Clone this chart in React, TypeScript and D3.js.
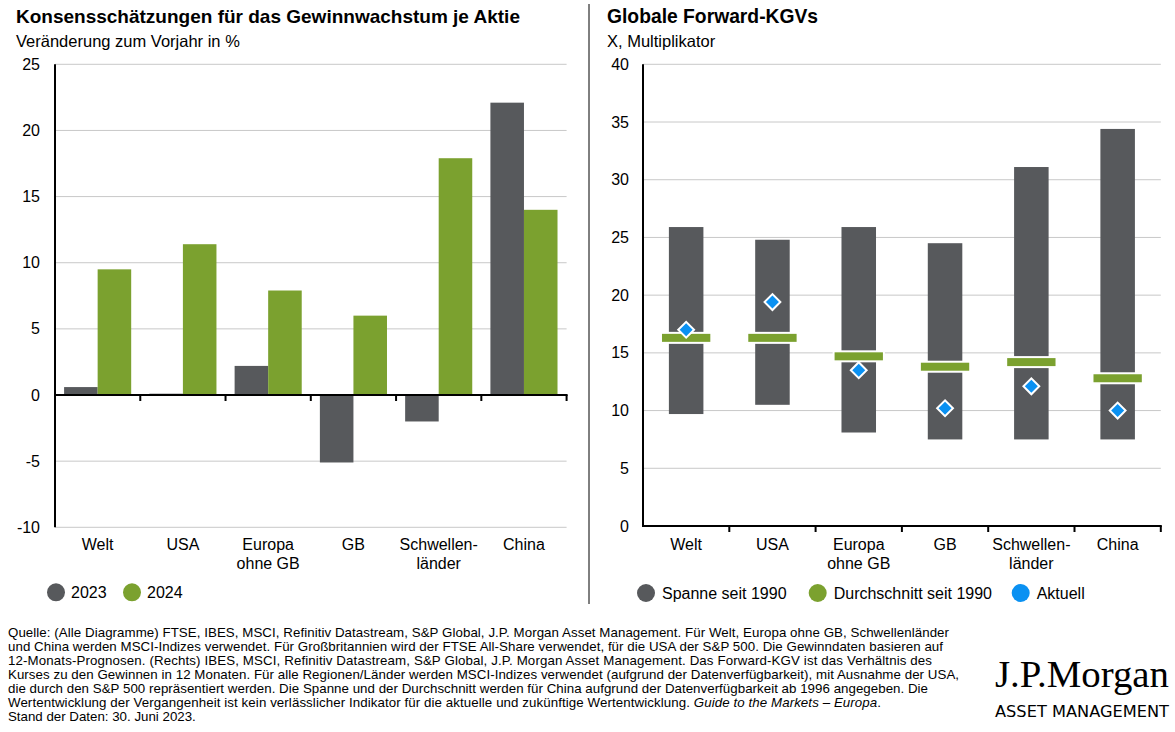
import React from "react";
import * as d3 from "d3";

const categories: string[][] = [["Welt"], ["USA"], ["Europa", "ohne GB"], ["GB"], ["Schwellen-", "länder"], ["China"]];
const eps2023 = [0.6, 0.1, 2.2, -5.1, -2.0, 22.1];
const eps2024 = [9.5, 11.4, 7.9, 6.0, 17.9, 14.0];
const leftTicks = [-10, -5, 0, 5, 10, 15, 20, 25];

const peHigh = [25.9, 24.8, 25.9, 24.5, 31.1, 34.4];
const peLow = [9.7, 10.5, 8.1, 7.5, 7.5, 7.5];
const peAvg = [16.3, 16.3, 14.7, 13.8, 14.2, 12.8];
const peCurrent = [17.0, 19.4, 13.5, 10.2, 12.1, 10.0];
const rightTicks = [0, 5, 10, 15, 20, 25, 30, 35, 40];

const footnoteLines = [
  "Quelle: (Alle Diagramme) FTSE, IBES, MSCI, Refinitiv Datastream, S&P Global, J.P. Morgan Asset Management. Für Welt, Europa ohne GB, Schwellenländer",
  "und China werden MSCI-Indizes verwendet. Für Großbritannien wird der FTSE All-Share verwendet, für die USA der S&P 500. Die Gewinndaten basieren auf",
  "12-Monats-Prognosen. (Rechts) IBES, MSCI, Refinitiv Datastream, S&P Global, J.P. Morgan Asset Management. Das Forward-KGV ist das Verhältnis des",
  "Kurses zu den Gewinnen in 12 Monaten. Für alle Regionen/Länder werden MSCI-Indizes verwendet (aufgrund der Datenverfügbarkeit), mit Ausnahme der USA,",
  "die durch den S&P 500 repräsentiert werden. Die Spanne und der Durchschnitt werden für China aufgrund der Datenverfügbarkeit ab 1996 angegeben. Die",
];
const footnoteWidths = [941, 935, 924, 951, 920];
const footnoteLine6 = "Wertentwicklung der Vergangenheit ist kein verlässlicher Indikator für die aktuelle und zukünftige Wertentwicklung. ";
const footnoteItalic = "Guide to the Markets – Europa";
const footnoteLast = "Stand der Daten: 30. Juni 2023.";

const GRAY = "#57595c";
const GREEN = "#7ba12f";
const BLUE = "#0a91f2";
const GRID = "#c8c8c8";
const FONT = "'Liberation Sans', Arial, sans-serif";

export default function App() {
  const catKeys = categories.map((c) => c.join(" "));

  // Left chart
  const lx = d3.scaleBand<string>().domain(catKeys).range([55, 566.6]).paddingInner(0.213).paddingOuter(0.1066);
  const lx1 = d3.scaleBand<string>().domain(["2023", "2024"]).range([0, lx.bandwidth()]);
  const ly = d3.scaleLinear().domain([-10, 25]).range([527.3, 64.3]);
  const lStep = lx.step();

  // Right chart
  const rx = d3.scaleBand<string>().domain(catKeys).range([643, 1160.8]).paddingInner(0.6).paddingOuter(0.3);
  const ry = d3.scaleLinear().domain([0, 40]).range([526, 64.3]);
  const rStep = rx.step();

  const diamond = d3.symbol().type(d3.symbolSquare).size(125)();

  return (
    <svg width={1175} height={732} style={{ position: "absolute", left: 0, top: 0, background: "#fff" }} fontFamily={FONT}>
      <rect width={1175} height={732} fill="#fff" />
      {/* Titles */}
      <text x={16} y={23} fontSize={19} fontWeight="bold" fill="#000">Konsensschätzungen für das Gewinnwachstum je Aktie</text>
      <text x={16} y={47} fontSize={16.5} fill="#000">Veränderung zum Vorjahr in %</text>
      <text x={607} y={23} fontSize={19.3} fontWeight="bold" fill="#000">Globale Forward-KGVs</text>
      <text x={607} y={47} fontSize={16.5} fill="#000">X, Multiplikator</text>

      {/* Divider */}
      <line x1={589} x2={589} y1={4} y2={604} stroke="#000" strokeWidth={1} />

      {/* LEFT CHART */}
      {leftTicks.map((t) => (
        <g key={"lg" + t}>
          <line x1={55} x2={566.6} y1={ly(t)} y2={ly(t)} stroke={GRID} strokeWidth={1} />
          <text x={40} y={ly(t)} dy="0.35em" textAnchor="end" fontSize={16} fill="#000">{t}</text>
        </g>
      ))}
      {catKeys.map((k, i) => (
        <g key={"lb" + k}>
          <rect x={lx(k)! + lx1("2023")!} width={lx1.bandwidth()} y={Math.min(ly(eps2023[i]), ly(0))} height={Math.abs(ly(eps2023[i]) - ly(0))} fill={GRAY} />
          <rect x={lx(k)! + lx1("2024")!} width={lx1.bandwidth()} y={Math.min(ly(eps2024[i]), ly(0))} height={Math.abs(ly(eps2024[i]) - ly(0))} fill={GREEN} />
        </g>
      ))}
      <line x1={55} x2={55} y1={64.3} y2={527.3} stroke="#000" strokeWidth={2} />
      <line x1={54} x2={567.6} y1={ly(0)} y2={ly(0)} stroke="#000" strokeWidth={2} />
      {catKeys.map((k) => {
        const bx = lx(k)! + lx.bandwidth() + (lStep * lx.paddingInner()) / 2;
        return <line key={"lt" + k} x1={bx} x2={bx} y1={ly(0)} y2={ly(0) + 6} stroke="#000" strokeWidth={2} />;
      })}
      {categories.map((lines, i) => (
        <text key={"lxl" + i} x={lx(catKeys[i])! + lx.bandwidth() / 2} y={549.5} textAnchor="middle" fontSize={16} fill="#000">
          {lines.map((ln, j) => (
            <tspan key={j} x={lx(catKeys[i])! + lx.bandwidth() / 2} dy={j === 0 ? 0 : 19.4}>{ln}</tspan>
          ))}
        </text>
      ))}
      {/* Left legend */}
      <circle cx={56} cy={592.3} r={9} fill={GRAY} />
      <text x={71} y={598} fontSize={16} fill="#000">2023</text>
      <circle cx={132} cy={592.3} r={9} fill={GREEN} />
      <text x={147} y={598} fontSize={16} fill="#000">2024</text>

      {/* RIGHT CHART */}
      {rightTicks.map((t) => (
        <g key={"rg" + t}>
          <line x1={643} x2={1160.8} y1={ry(t)} y2={ry(t)} stroke={GRID} strokeWidth={1} />
          <text x={629} y={ry(t)} dy="0.35em" textAnchor="end" fontSize={16} fill="#000">{t}</text>
        </g>
      ))}
      {catKeys.map((k, i) => {
        const cx = rx(k)! + rx.bandwidth() / 2;
        const aw = rx.bandwidth() * 1.4;
        return (
          <g key={"rb" + k}>
            <rect x={rx(k)!} width={rx.bandwidth()} y={ry(peHigh[i])} height={ry(peLow[i]) - ry(peHigh[i])} fill={GRAY} />
            <rect x={cx - aw / 2 - 2} width={aw + 4} y={ry(peAvg[i]) - 4 - 2} height={12} fill="#fff" />
            <rect x={cx - aw / 2} width={aw} y={ry(peAvg[i]) - 4} height={8} fill={GREEN} />
            <path d={diamond!} transform={`translate(${cx},${ry(peCurrent[i])}) rotate(45)`} fill={BLUE} stroke="#fff" strokeWidth={2} />
          </g>
        );
      })}
      <line x1={643} x2={643} y1={64.3} y2={527} stroke="#000" strokeWidth={2} />
      <line x1={642} x2={1161.8} y1={ry(0)} y2={ry(0)} stroke="#000" strokeWidth={2} />
      {catKeys.map((k) => {
        const bx = rx(k)! + rx.bandwidth() + (rStep * rx.paddingInner()) / 2;
        return <line key={"rt" + k} x1={bx} x2={bx} y1={ry(0)} y2={ry(0) + 6} stroke="#000" strokeWidth={2} />;
      })}
      {categories.map((lines, i) => (
        <text key={"rxl" + i} x={rx(catKeys[i])! + rx.bandwidth() / 2} y={549.5} textAnchor="middle" fontSize={16} fill="#000">
          {lines.map((ln, j) => (
            <tspan key={j} x={rx(catKeys[i])! + rx.bandwidth() / 2} dy={j === 0 ? 0 : 19.4}>{ln}</tspan>
          ))}
        </text>
      ))}
      {/* Right legend */}
      <circle cx={646} cy={593} r={9} fill={GRAY} />
      <text x={662} y={598.5} fontSize={16} fill="#000">Spanne seit 1990</text>
      <circle cx={817.7} cy={593} r={9} fill={GREEN} />
      <text x={833.7} y={598.5} fontSize={16} fill="#000">Durchschnitt seit 1990</text>
      <circle cx={1020.7} cy={593} r={9} fill={BLUE} />
      <text x={1036.7} y={598.5} fontSize={16} fill="#000">Aktuell</text>

      {/* Footnote */}
      <g fontSize={13.3} fill="#000">
        {footnoteLines.map((ln, i) => (
          <text key={"fn" + i} x={8} y={637 + i * 14} textLength={footnoteWidths[i]} lengthAdjust="spacing">{ln}</text>
        ))}
        <text x={8} y={637 + 5 * 14} textLength={873} lengthAdjust="spacing">
          {footnoteLine6}
          <tspan fontStyle="italic">{footnoteItalic}</tspan>.
        </text>
        <text x={8} y={637 + 6 * 14}>{footnoteLast}</text>
      </g>

      {/* Logo */}
      <text x={995} y={687} fontSize={37} fontFamily="'Liberation Serif', 'Times New Roman', serif" fill="#000" textLength={174} lengthAdjust="spacingAndGlyphs">J.P.Morgan</text>
      <text x={995} y={717} fontSize={15} fontWeight={500} fontFamily="'DejaVu Sans', sans-serif" fill="#000" textLength={174} lengthAdjust="spacingAndGlyphs">ASSET MANAGEMENT</text>
    </svg>
  );
}
